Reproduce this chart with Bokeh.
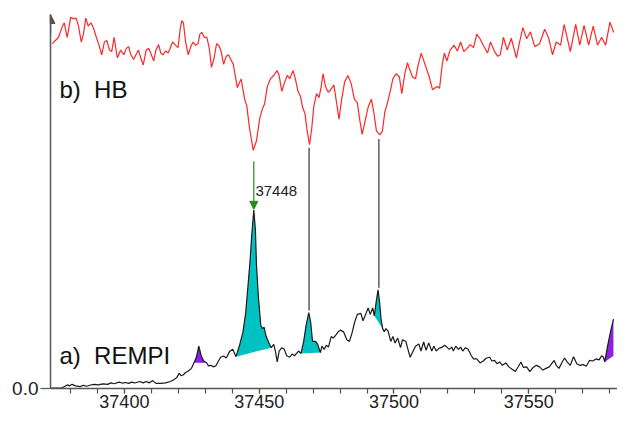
import numpy as np
from bokeh.plotting import figure
from bokeh.models import (Range1d, FixedTicker, SingleIntervalTicker, NumeralTickFormatter,
                          Label, Arrow, NormalHead)
from bokeh.embed import file_html
from bokeh.resources import INLINE

# ---------------- data ----------------
rempi_wn = [37372.3, 37377.0, 37378.8, 37379.7, 37380.6, 37381.9, 37383.6, 37384.8, 37386.0, 37387.8,
            37389.0, 37390.2, 37392.0, 37393.8, 37395.0, 37396.2, 37398.0, 37399.2, 37400.4, 37401.6,
            37402.8, 37403.9, 37405.7, 37407.0, 37408.1, 37409.3, 37410.5, 37411.7, 37413.5, 37415.3,
            37417.1, 37418.3, 37419.5, 37420.3, 37421.1, 37421.9, 37422.7, 37423.7, 37424.9, 37425.8,
            37426.7, 37427.6, 37428.5, 37429.4, 37430.5, 37431.2, 37432.1, 37433.0, 37433.9, 37434.7,
            37435.7, 37436.8, 37437.8, 37439.0, 37440.2, 37441.4, 37442.8, 37444.0, 37445.0, 37445.8,
            37446.6, 37447.3, 37448.0, 37448.6, 37449.0, 37449.7, 37450.6, 37451.2, 37451.8, 37452.6,
            37453.6, 37454.5, 37455.4, 37456.0, 37456.7, 37457.4, 37458.4, 37459.3, 37460.2, 37461.3,
            37462.2, 37463.1, 37464.6, 37465.5, 37466.5, 37467.4, 37468.4, 37469.1, 37469.8, 37470.9,
            37471.7, 37472.7, 37473.3, 37474.1, 37474.9, 37475.7, 37476.7, 37477.5, 37478.4, 37479.3,
            37480.1, 37481.3, 37482.5, 37483.5, 37484.4, 37485.4, 37486.4, 37487.7, 37488.5, 37489.5,
            37490.4, 37491.2, 37492.1, 37492.7, 37493.5, 37494.1, 37494.7, 37495.2, 37495.8, 37496.4,
            37497.0, 37497.8, 37498.8, 37499.6, 37500.4, 37501.4, 37502.4, 37503.2, 37504.4, 37505.0,
            37506.0, 37507.1, 37508.0, 37509.2, 37510.0, 37511.0, 37511.9, 37512.9, 37514.0, 37514.8,
            37515.7, 37516.7, 37517.9, 37518.7, 37519.6, 37520.5, 37521.4, 37522.0, 37522.9, 37523.9,
            37524.7, 37525.5, 37526.5, 37527.5, 37528.7, 37529.5, 37530.7, 37531.9, 37533.1, 37534.3,
            37535.5, 37536.3, 37537.3, 37538.2, 37539.2, 37540.2, 37541.5, 37542.6, 37543.8, 37545.0,
            37546.2, 37547.1, 37548.0, 37549.2, 37550.4, 37551.6, 37552.8, 37554.0, 37555.2, 37556.4,
            37557.6, 37558.5, 37559.4, 37560.2, 37561.2, 37562.4, 37563.3, 37564.2, 37565.4, 37566.6,
            37567.8, 37568.9, 37570.2, 37571.3, 37572.5, 37573.7, 37574.9, 37576.1, 37577.0, 37577.7,
            37578.2, 37579.1, 37580.3, 37581.4]
rempi_int = [0.002, 0.004, 0.019, 0.014, 0.022, 0.014, 0.010, 0.017, 0.012, 0.020,
             0.022, 0.019, 0.025, 0.022, 0.030, 0.025, 0.034, 0.029, 0.032, 0.027,
             0.034, 0.029, 0.037, 0.030, 0.037, 0.030, 0.042, 0.027, 0.027, 0.030,
             0.037, 0.047, 0.059, 0.081, 0.068, 0.073, 0.085, 0.093, 0.107, 0.137,
             0.166, 0.225, 0.174, 0.146, 0.137, 0.120, 0.123, 0.115, 0.120, 0.141,
             0.166, 0.173, 0.162, 0.196, 0.208, 0.169, 0.234, 0.301, 0.403, 0.538,
             0.674, 0.826, 0.948, 0.843, 0.656, 0.487, 0.335, 0.318, 0.326, 0.276,
             0.242, 0.217, 0.234, 0.199, 0.141, 0.199, 0.217, 0.208, 0.174, 0.166,
             0.183, 0.174, 0.199, 0.186, 0.250, 0.335, 0.403, 0.352, 0.250, 0.250,
             0.234, 0.191, 0.225, 0.208, 0.230, 0.220, 0.276, 0.268, 0.284, 0.301,
             0.310, 0.301, 0.259, 0.250, 0.293, 0.352, 0.394, 0.399, 0.360, 0.394,
             0.428, 0.394, 0.428, 0.386, 0.471, 0.524, 0.453, 0.369, 0.318, 0.301,
             0.318, 0.305, 0.250, 0.276, 0.242, 0.268, 0.217, 0.259, 0.250, 0.217,
             0.166, 0.199, 0.225, 0.237, 0.199, 0.247, 0.203, 0.242, 0.199, 0.225,
             0.199, 0.213, 0.220, 0.230, 0.220, 0.208, 0.220, 0.199, 0.225, 0.208,
             0.220, 0.199, 0.217, 0.208, 0.174, 0.157, 0.157, 0.136, 0.146, 0.162,
             0.166, 0.146, 0.149, 0.132, 0.141, 0.123, 0.136, 0.115, 0.102, 0.090,
             0.118, 0.141, 0.112, 0.115, 0.090, 0.112, 0.123, 0.115, 0.098, 0.107,
             0.115, 0.132, 0.149, 0.123, 0.107, 0.141, 0.162, 0.141, 0.123, 0.169,
             0.132, 0.123, 0.127, 0.118, 0.149, 0.146, 0.157, 0.152, 0.174, 0.166,
             0.141, 0.217, 0.301, 0.369]

hb_wn = [37373.2, 37374.4, 37375.6, 37376.8, 37377.7, 37378.8, 37380.1, 37381.2, 37382.1, 37383.0,
         37384.0, 37384.8, 37385.7, 37386.6, 37387.6, 37388.5, 37389.6, 37390.6, 37391.6, 37392.6,
         37393.5, 37394.5, 37395.3, 37396.2, 37397.4, 37398.6, 37399.8, 37400.7, 37401.6, 37402.4,
         37403.4, 37404.3, 37405.2, 37406.1, 37407.0, 37408.1, 37409.1, 37410.0, 37410.9, 37411.7,
         37412.7, 37413.5, 37414.3, 37415.3, 37416.3, 37417.2, 37417.9, 37418.9, 37419.9, 37420.7,
         37421.3, 37421.9, 37422.7, 37423.7, 37424.6, 37425.5, 37426.3, 37427.3, 37428.0, 37428.7,
         37429.7, 37430.6, 37431.5, 37432.3, 37433.3, 37434.2, 37435.0, 37435.9, 37436.8, 37437.8,
         37438.6, 37439.5, 37440.4, 37441.0, 37441.9, 37443.3, 37444.6, 37445.4, 37446.4, 37447.8,
         37449.0, 37450.2, 37451.2, 37452.0, 37453.0, 37454.2, 37455.4, 37456.6, 37457.4, 37458.4,
         37459.3, 37460.4, 37461.3, 37462.6, 37463.4, 37464.4, 37465.3, 37466.1, 37467.0, 37467.8,
         37468.7, 37469.5, 37470.3, 37471.3, 37472.2, 37473.0, 37473.7, 37474.6, 37475.6, 37476.5,
         37477.7, 37478.7, 37479.6, 37480.6, 37481.7, 37482.9, 37484.1, 37485.3, 37486.4, 37487.4,
         37488.2, 37489.5, 37490.4, 37491.6, 37492.5, 37493.5, 37494.8, 37495.7, 37496.6, 37497.6,
         37498.6, 37499.6, 37500.8, 37502.0, 37502.9, 37504.0, 37505.0, 37506.0, 37506.9, 37508.0,
         37508.9, 37510.1, 37511.5, 37513.1, 37514.3, 37516.0, 37516.9, 37517.9, 37518.7, 37519.6,
         37520.8, 37522.3, 37523.5, 37524.7, 37525.9, 37527.1, 37528.3, 37529.5, 37530.7, 37531.9,
         37533.1, 37534.7, 37535.8, 37537.3, 37538.5, 37539.4, 37540.6, 37542.0, 37543.5, 37545.4,
         37546.6, 37547.8, 37549.2, 37550.6, 37552.2, 37554.0, 37555.9, 37557.4, 37558.8, 37560.2,
         37561.8, 37563.1, 37565.4, 37567.4, 37568.9, 37570.5, 37572.2, 37573.9, 37575.5, 37577.0,
         37578.5, 37580.1, 37581.5]
hb_int = [1.832, 1.849, 1.866, 1.917, 1.943, 1.866, 1.973, 1.963, 1.968, 1.925,
          1.841, 1.883, 1.968, 1.925, 1.943, 1.917, 1.866, 1.824, 1.773, 1.841,
          1.849, 1.798, 1.790, 1.866, 1.756, 1.798, 1.773, 1.807, 1.816, 1.773,
          1.748, 1.773, 1.798, 1.756, 1.719, 1.798, 1.807, 1.773, 1.740, 1.798,
          1.827, 1.782, 1.773, 1.793, 1.782, 1.816, 1.841, 1.824, 1.811, 1.909,
          1.954, 1.943, 1.841, 1.773, 1.816, 1.841, 1.824, 1.832, 1.883, 1.892,
          1.866, 1.866, 1.807, 1.706, 1.756, 1.832, 1.824, 1.790, 1.722, 1.765,
          1.773, 1.748, 1.722, 1.672, 1.599, 1.645, 1.537, 1.503, 1.384, 1.265,
          1.316, 1.435, 1.486, 1.511, 1.604, 1.646, 1.663, 1.689, 1.663, 1.579,
          1.621, 1.663, 1.646, 1.689, 1.646, 1.579, 1.553, 1.494, 1.460, 1.367,
          1.296, 1.384, 1.503, 1.567, 1.545, 1.604, 1.672, 1.604, 1.574, 1.587,
          1.613, 1.519, 1.431, 1.537, 1.629, 1.663, 1.621, 1.537, 1.519, 1.418,
          1.350, 1.435, 1.494, 1.537, 1.469, 1.367, 1.347, 1.367, 1.469, 1.519,
          1.579, 1.646, 1.672, 1.655, 1.567, 1.672, 1.731, 1.689, 1.655, 1.646,
          1.714, 1.782, 1.722, 1.655, 1.587, 1.604, 1.595, 1.722, 1.782, 1.740,
          1.798, 1.824, 1.793, 1.841, 1.790, 1.807, 1.827, 1.811, 1.883, 1.858,
          1.824, 1.782, 1.841, 1.790, 1.765, 1.773, 1.866, 1.798, 1.861, 1.756,
          1.841, 1.917, 1.858, 1.895, 1.816, 1.832, 1.909, 1.861, 1.773, 1.841,
          1.824, 1.934, 1.790, 1.934, 1.824, 1.929, 1.824, 1.925, 1.824, 1.866,
          1.824, 1.946, 1.892]

# shaded bands under REMPI peaks (start / end wavenumber)
band_start = [37425.8, 37441.4, 37465.5, 37492.7, 37578.2]
band_end = [37430.5, 37454.5, 37472.7, 37495.8, 37581.4]
band_kind = ["violet", "cyan", "cyan", "cyan", "violet"]
last_band_chord_end = 0.174

# connector lines HB dip -> REMPI peak
link_wn = [37468.5, 37494.4]
link_top = [1.279, 1.325]
link_bottom = [0.415, 0.535]

# annotated band
peak_wn = 37448.0
peak_label = "37448"
peak_arrow_top = 1.208
peak_arrow_tip = 0.952
peak_label_y = 1.051

trace_labels = ["b)\u00a0\u00a0HB", "a)\u00a0\u00a0REMPI"]
trace_label_y = [1.59, 0.176]

x_tick_step = 50
x_label = "Wavenumber / cm\u207b\u00b9"

# ---------------- figure ----------------
FONT = "Liberation Sans"
AX = "#555555"
p = figure(width=617, height=432, output_backend="svg", toolbar_location=None,
           x_range=Range1d(37372.6, 37582.9), y_range=Range1d(0, 1.987),
           min_border_left=50, min_border_right=0, min_border_top=14, min_border_bottom=44)
p.grid.visible = False
p.outline_line_color = None
p.background_fill_color = "white"
p.border_fill_color = "white"

xa = p.xaxis[0]
xa.ticker = SingleIntervalTicker(interval=x_tick_step, num_minor_ticks=5)
xa.axis_line_color = AX
xa.axis_line_width = 1.5
xa.major_tick_line_color = AX
xa.minor_tick_line_color = AX
xa.major_tick_line_width = 1.2
xa.minor_tick_line_width = 1.2
xa.major_tick_in = 0
xa.minor_tick_in = 0
xa.major_tick_out = 5
xa.minor_tick_out = 5
xa.major_label_standoff = 1
xa.major_label_text_font = FONT
xa.major_label_text_font_size = "18px"
xa.major_label_text_color = "#222222"

ya = p.yaxis[0]
ya.ticker = FixedTicker(ticks=[0.0], minor_ticks=[])
ya.formatter = NumeralTickFormatter(format="0.0")
ya.axis_line_color = AX
ya.axis_line_width = 1.5
ya.major_tick_line_color = AX
ya.major_tick_line_width = 1.2
ya.major_tick_in = 0
ya.major_tick_out = 10
ya.minor_tick_out = 0
ya.minor_tick_in = 0
ya.major_label_standoff = 2
ya.major_label_text_font = FONT
ya.major_label_text_font_size = "19px"
ya.major_label_text_color = "#222222"

# y-axis arrow head
p.add_layout(Arrow(end=NormalHead(size=9, fill_color=AX, line_color=AX),
                   x_start=p.x_range.start, y_start=p.y_range.end - 0.1,
                   x_end=p.x_range.start, y_end=p.y_range.end,
                   line_color=AX, line_width=1.5))

# shaded bands
colors = {"cyan": "#00c2c2", "violet": "#8a22e6"}
wn_arr = np.array(rempi_wn)
int_arr = np.array(rempi_int)
for i, (s, e, k) in enumerate(zip(band_start, band_end, band_kind)):
    m = (wn_arr >= s - 1e-6) & (wn_arr <= e + 1e-6)
    xs = list(wn_arr[m])
    ys = list(int_arr[m])
    if i == len(band_start) - 1:
        xs.append(e)
        ys.append(last_band_chord_end)
    p.patch(xs, ys, fill_color=colors[k], line_color=None)

# traces
p.line(hb_wn, hb_int, line_color="#ff2626", line_width=1.2)
p.line(rempi_wn, rempi_int, line_color="#1a1a1a", line_width=1.2)

# connectors
p.segment(x0=link_wn, y0=link_top, x1=link_wn, y1=link_bottom, line_color="#222222", line_width=1.1)

# green arrow + label
GREEN = "#2a8a1e"
p.add_layout(Arrow(end=NormalHead(size=8, fill_color=GREEN, line_color=GREEN),
                   x_start=peak_wn, y_start=peak_arrow_top, x_end=peak_wn, y_end=peak_arrow_tip,
                   line_color=GREEN, line_width=1.2))
p.add_layout(Label(x=peak_wn + 0.6, y=peak_label_y, text=peak_label, text_font=FONT,
                   text_font_size="15px", text_color="#222222", text_baseline="middle",
                   text_align="left"))

# trace labels
for t, yv in zip(trace_labels, trace_label_y):
    p.add_layout(Label(x=37375.9, y=yv, text=t, text_font=FONT, text_font_size="24px",
                       text_color="#111111", text_baseline="alphabetic", text_align="left"))

# x-axis title, just below the tick labels
p.add_layout(Label(x=37477.4, y=-0.2285, text=x_label, text_font=FONT, text_font_size="16px",
                   text_color="#222222", text_baseline="bottom", text_align="center"))

open("out.html", "w").write(file_html(p, INLINE))
